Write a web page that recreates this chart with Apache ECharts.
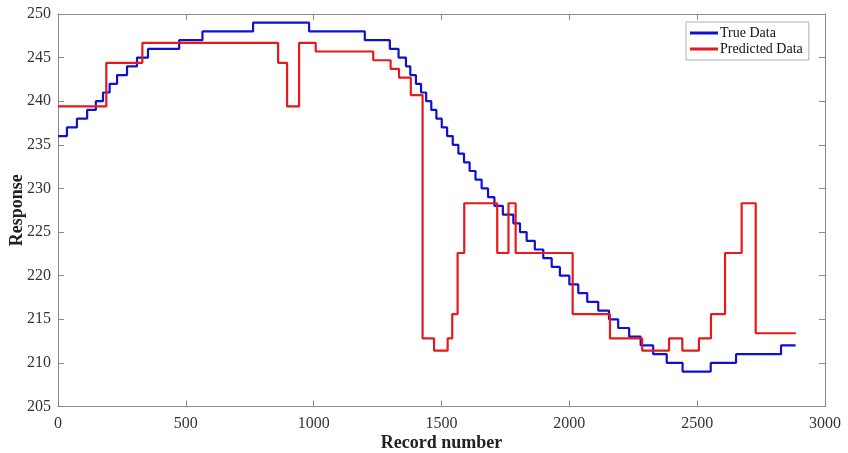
<!DOCTYPE html>
<html>
<head>
<meta charset="utf-8">
<script src="https://cdn.jsdelivr.net/npm/echarts@6/dist/echarts.min.js"></script>
<style>html,body{margin:0;padding:0;background:#fff}#c{width:848px;height:453px}</style>
</head>
<body>
<div id="c"></div>
<script>
// True data: step level values and the record number where each level ends
var trueValues = [236,237,238,239,240,241,242,243,244,245,246,247,248,249,248,247,246,245,244,243,242,241,240,239,238,237,236,235,234,233,232,231,230,229,228,227,226,225,224,223,222,221,220,219,218,217,216,215,214,213,212,211,210,209,210,211,212];
var trueEnds = [35,74,114,148,176,202,231,270,309,352,474,565,763,982,1200,1298,1332,1361,1378,1400,1420,1440,1460,1480,1501,1522,1544,1566,1588,1610,1633,1657,1682,1707,1740,1781,1807,1833,1865,1898,1931,1963,2000,2035,2070,2113,2155,2191,2234,2279,2328,2381,2443,2553,2652,2828,2885];
// Predicted data
var predValues = [239.4,244.4,246.7,244.4,239.4,246.7,245.7,244.7,243.7,242.7,240.7,212.8,211.4,212.8,215.6,222.6,228.3,222.6,228.3,222.6,215.6,212.8,211.4,212.8,211.4,212.8,215.6,222.6,228.3,213.4];
var predEnds = [189,330,861,896,943,1008,1233,1301,1334,1380,1426,1471,1524,1542,1563,1589,1718,1762,1790,2013,2159,2285,2390,2442,2507,2554,2609,2674,2729,2886];
var xTicks = [0,500,1000,1500,2000,2500,3000];
var yTicks = [205,210,215,220,225,230,235,240,245,250];

function stepPoints(vals, ends) {
  var pts = [[0, vals[0]]];
  for (var i = 1; i < vals.length; i++) pts.push([ends[i-1], vals[i]]);
  pts.push([ends[ends.length-1], vals[vals.length-1]]);
  return pts;
}

var font = 'Liberation Serif';
var axisGray = '#8a8a8a';
var chart = echarts.init(document.getElementById('c'));
function plain(v){ return String(v); }
function xAx(extra){
  return Object.assign({type:'value', min:xTicks[0], max:xTicks[xTicks.length-1], interval:500,
    axisLine:{show:true, onZero:false, lineStyle:{color:axisGray, width:1}},
    axisTick:{show:true, inside:true, length:6, lineStyle:{color:axisGray}},
    splitLine:{show:false}}, extra);
}
function yAx(extra){
  return Object.assign({type:'value', min:yTicks[0], max:yTicks[yTicks.length-1], interval:5,
    axisLine:{show:true, onZero:false, lineStyle:{color:axisGray, width:1}},
    axisTick:{show:true, inside:true, length:6, lineStyle:{color:axisGray}},
    splitLine:{show:false}}, extra);
}

chart.setOption({
  animation:false,
  backgroundColor:'#fff',
  grid:{left:58, right:23, top:14, bottom:46.5, containLabel:false, outerBoundsMode:'none'},
  legend:{
    left:686, top:22, orient:'vertical', itemGap:2,
    padding:[4,6,4,4],
    borderColor:'#b0b0b0', borderWidth:1, backgroundColor:'#fff',
    itemWidth:28, itemHeight:3, icon:'rect',
    textStyle:{fontFamily:font, fontSize:14, color:'#111', padding:[0,0,0,-3]},
    data:['True Data','Predicted Data']
  },
  xAxis:[
    xAx({position:'bottom',
      name:'Record number', nameLocation:'middle', nameGap:28, nameMoveOverlap:false,
      nameTextStyle:{fontFamily:font, fontSize:18, fontWeight:'bold', color:'#222'},
      axisLabel:{show:true, margin:9, fontFamily:font, fontSize:16, color:'#333', formatter:plain}}),
    xAx({position:'top', axisLabel:{show:false}})
  ],
  yAxis:[
    yAx({position:'left',
      name:'Response', nameLocation:'middle', nameGap:32, nameMoveOverlap:false,
      nameTextStyle:{fontFamily:font, fontSize:18, fontWeight:'bold', color:'#222'},
      axisLabel:{show:true, margin:7, fontFamily:font, fontSize:16, color:'#333', formatter:plain}}),
    yAx({position:'right', axisLabel:{show:false}})
  ],
  series:[
    {name:'True Data', type:'line', step:'end', showSymbol:false, symbol:'none',
     data:stepPoints(trueValues, trueEnds), xAxisIndex:0, yAxisIndex:0,
     lineStyle:{color:'#1010d0', width:2.2}, itemStyle:{color:'#1010d0'}, z:2},
    {name:'Predicted Data', type:'line', step:'end', showSymbol:false, symbol:'none',
     data:stepPoints(predValues, predEnds), xAxisIndex:0, yAxisIndex:0,
     lineStyle:{color:'#e41a1c', width:2.2}, itemStyle:{color:'#e41a1c'}, z:3}
  ]
});
</script>
</body>
</html>
